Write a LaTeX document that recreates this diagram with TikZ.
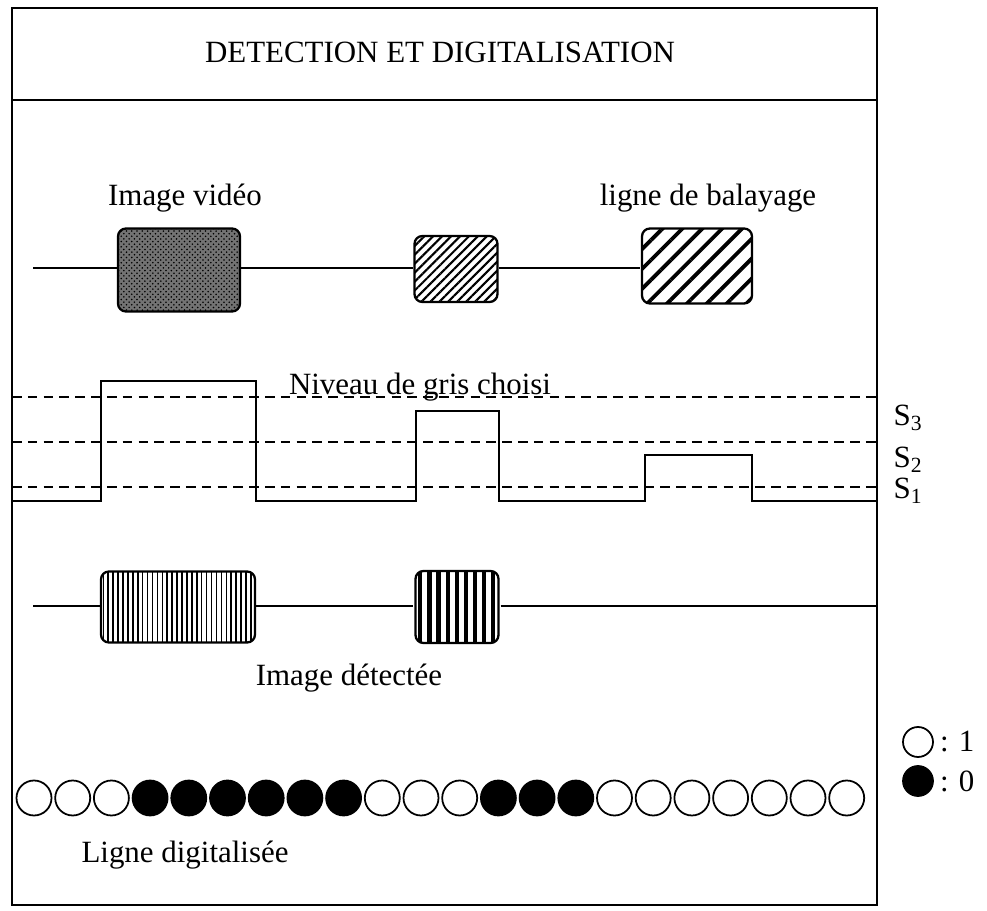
\documentclass[tikz,border=0pt]{standalone}
\usepackage{fontspec}
\setmainfont{Liberation Serif}
\usetikzlibrary{patterns,patterns.meta}

\begin{document}
\begin{tikzpicture}[x=0.02cm, y=-0.02cm, font=\fontsize{17.6}{21}\selectfont,
    zone/.style={draw, line width=1.3pt, rounded corners=4.5pt, inner sep=0pt},
    seuil/.style={line width=0.9pt, dash pattern=on 5.5pt off 3.5pt},
    pixel/.style={circle, draw, line width=1pt, minimum size=0.7cm, inner sep=0pt}]
    \useasboundingbox (0,0) rectangle (987,911);
    \draw[line width=1.2pt] (12,8) rectangle (877,905);
    \draw[line width=1.2pt] (12,100) -- (877,100);
    \node (titre) at (440,52) {DETECTION ET DIGITALISATION};

    \node (lvideo) at (185,198) {Image vidéo};
    \node (lbalayage) at (708,198) {ligne de balayage};
    \coordinate (debut1) at (33,268);
    \node[zone, fill=black!55, postaction={pattern=crosshatch dots}, minimum width=2.44cm, minimum height=1.66cm] (video1) at (179,270) {};
    \node[zone, pattern={Lines[angle=45, distance=3.6pt, line width=1.2pt]}, minimum width=1.66cm, minimum height=1.32cm] (video2) at (456,269) {};
    \node[zone, pattern={Lines[angle=45, distance=8pt, line width=2.2pt]}, minimum width=2.2cm, minimum height=1.5cm] (video3) at (697,266) {};
    \draw[line width=1pt] (debut1) -- (debut1 -| video1.west) (video1.east |- debut1) -- (debut1 -| video2.west)
        (video2.east |- debut1) -- (debut1 -| video3.west);

    \draw[seuil] (12,397) -- (877,397);
    \draw[seuil] (12,442) -- (877,442);
    \draw[seuil] (12,487) -- (877,487);
    \node[anchor=base] (niveau) at (420,395) {Niveau de gris choisi};
    \draw[line width=1pt] (12,501) -| (101,381) -| (256,501) -| (416,411) -| (499,501) -| (645,455) -| (752,501) -- (877,501);
    \node (s3) at (908,418) {S\textsubscript{3}};
    \node (s2) at (908,460) {S\textsubscript{2}};
    \node (s1) at (908,491) {S\textsubscript{1}};

    \coordinate (debut2) at (33,606);
    \coordinate (fin2) at (877,606);
    \node[zone, pattern={Lines[angle=90, distance=2.8pt, line width=0.9pt]}, minimum width=3.08cm, minimum height=1.42cm] (detect1) at (178,607) {};
    \node[zone, pattern={Lines[angle=90, distance=5.2pt, line width=2.4pt]}, minimum width=1.66cm, minimum height=1.44cm] (detect2) at (457,607) {};
    \draw[line width=1pt] (debut2) -- (debut2 -| detect1.west) (detect1.east |- debut2) -- (debut2 -| detect2.west)
        (detect2.east |- debut2) -- (fin2);
    \node (ldetect) at (349,678) {Image détectée};

    \foreach \f [count=\i] in {white,white,white,black,black,black,black,black,black,white,white,white,black,black,black,white,white,white,white,white,white,white}
        \node[pixel, fill=\f] (p\i) at ({34+(\i-1)*38.7},798) {};
    \node (ldigit) at (185,855) {Ligne digitalisée};

    \node[pixel, minimum size=0.6cm] (leg1) at (918,742) {};
    \node[pixel, fill=black, minimum size=0.6cm] (leg0) at (918,781) {};
    \node[right] (tleg1) at (leg1.east) {: 1};
    \node[right] (tleg0) at (leg0.east) {: 0};
\end{tikzpicture}
\end{document}
